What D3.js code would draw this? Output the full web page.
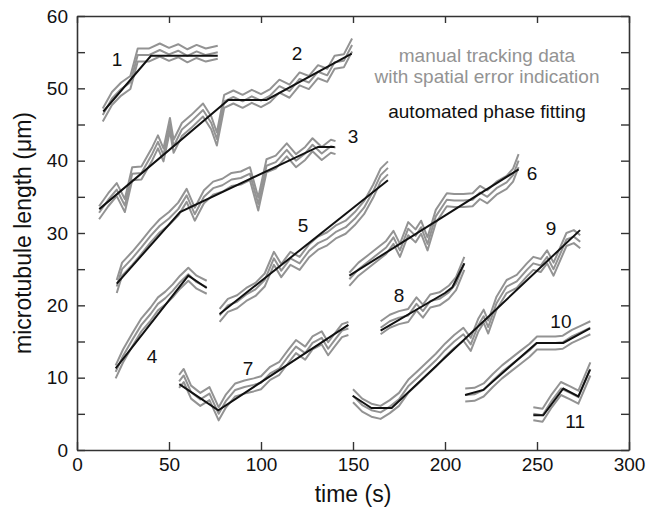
<!DOCTYPE html>
<html>
<head>
<meta charset="utf-8">
<script src="https://cdn.jsdelivr.net/npm/d3@7"></script>
<style>
  body { margin: 0; background: #fff; }
  svg { font-family: "Liberation Sans", Arial, sans-serif; }
</style>
</head>
<body>
<div id="chart"></div>
<script>
// manual tracking data, [time (s), length (um)]
var manual1 = [[14,46.3],[19,48.6],[24,49.9],[29,50.8],[33,54.6],[39,54.6],[45,55.3],[50,54.7],[55,55.2],[60,54.5],[65,55.1],[70,54.6],[76.5,55.0]];
var manual2 = [[12,32.8],[17,34.6],[21.6,36.0],[26,33.8],[30,38.2],[35,38.3],[41,41.0],[44,42.6],[47,40.8],[50.5,45.0],[52.5,42.0],[57,44.3],[62,45.4],[68.5,47.0],[73,45.2],[76,43.0],[80,48.2],[85,48.8],[90,48.2],[95,48.9],[100,48.3],[105,49.0],[110,50.3],[115.5,49.6],[121,51.3],[126,50.8],[131,52.3],[136,51.8],[140,53.6],[145,53.8],[149.5,56.0]];
var manual3 = [[21.6,22.6],[24.5,25.0],[30,26.5],[35,28.0],[40,29.6],[45,31.0],[50,32.0],[55,33.3],[59.6,35.2],[64,32.6],[69,35.0],[74,36.2],[79,36.6],[84,37.4],[89,37.6],[94,38.2],[98.5,34.0],[103,39.3],[108,39.8],[114,41.5],[119,40.0],[124,41.0],[128,42.2],[133,41.0],[138,42.0],[140.5,41.8]];
var manual4 = [[21,10.8],[25,13.0],[30,15.2],[35,17.3],[40,18.8],[44,20.2],[48,21.0],[52,22.0],[56,23.2],[60.5,24.3],[65,23.2],[70.5,22.5]];
var manual5 = [[77.5,18.6],[82,20.0],[87,20.5],[92,21.5],[97,22.2],[102,23.5],[107,26.5],[111,24.8],[116,26.5],[121,25.8],[126,27.5],[131,28.6],[136,29.2],[141,30.2],[146,30.8],[151,32.0],[156,33.5],[161,35.8],[165,38.0],[169,39.0]];
var manual6 = [[148,23.6],[153,25.0],[158,26.0],[164,27.2],[168,28.0],[172,29.4],[175.5,27.6],[180,30.6],[184,29.6],[187,30.8],[190.5,28.5],[195,32.3],[201,34.6],[205,34.5],[210,34.5],[215,34.6],[219,35.6],[223,35.0],[228,36.2],[233.5,37.0],[237,38.0],[240,40.0]];
var manual7 = [[55.5,9.5],[58,10.3],[62,8.0],[67,7.0],[72,7.8],[77,5.0],[81,6.8],[86,8.3],[91,8.7],[96,9.0],[100,9.3],[105,10.6],[110,11.3],[115,13.0],[119,14.3],[124,13.4],[128,14.8],[133,15.5],[136.5,14.0],[140,15.2],[144,16.5],[147.5,16.8]];
var manual8 = [[165,16.9],[170,17.8],[175,18.3],[180,18.6],[184.5,20.2],[188,19.2],[192,20.6],[197,20.9],[202,21.8],[206,23.0],[210.5,25.8]];
var manual9 = [[150,7.5],[155,6.2],[160,5.5],[165,5.2],[170,6.0],[175,7.0],[180,8.8],[185,10.0],[190,11.2],[195,12.4],[200,13.8],[205,15.0],[210,16.0],[214,14.6],[218,17.2],[221,18.5],[223.5,17.0],[228,20.3],[233.5,22.6],[239,23.3],[244.5,24.9],[248,25.8],[252,25.5],[255.5,26.7],[259,25.0],[266,29.1],[270,29.5],[273.5,28.8]];
var manual10 = [[211,7.6],[216,7.7],[221,8.3],[226,9.6],[231,10.8],[236,11.8],[241,12.8],[246,13.8],[250,14.8],[255,14.8],[260,14.8],[264,14.9],[269,15.7],[274,16.3],[279,16.9]];
var manual11 = [[248,5.0],[253,4.8],[258,6.8],[263,8.5],[268,7.9],[272.5,7.3],[279,11.2]];

// automated phase fitting, breakpoints [time, length]
var fit1 = [[14.3,46.8],[40.2,54.5],[76.5,54.5]];
var fit2 = [[12.1,33.3],[82.2,48.4],[103,48.4],[149.3,54.8]];
var fit3 = [[21.6,23.0],[56,32.9],[131,41.9],[140,41.9]];
var fit4 = [[21,11.3],[60.5,24.1],[70.5,22.4]];
var fit5 = [[77.5,18.8],[169,37.3]];
var fit6 = [[148,24.1],[240,38.8]];
var fit7 = [[55.6,9.1],[76.8,5.5],[147.5,17.3]];
var fit8 = [[165,16.5],[200,21.7],[204,22.5],[210.5,25.8]];
var fit9 = [[149.8,7.5],[160,5.8],[171,5.8],[273.4,30.4]];
var fit10 = [[210.9,7.6],[220.8,8.3],[249.8,14.8],[264.3,14.8],[278.8,16.8]];
var fit11 = [[248,4.8],[253.4,4.8],[264.3,8.5],[272.5,7.4],[278.8,11.1]];

var spatialError = 0.9;

var traceNames = ["1","2","3","4","5","6","7","8","9","10","11"];
// label anchor in data units [time, length]
var traceLabelPos = [[21.7,53.1],[119.6,53.9],[150,42.4],[40.8,12.0],[122.8,30.1],[247.3,37.3],[92.9,10.4],[175,20.5],[257.6,29.7],[263,16.9],[270.7,3.0]];

var xTicks = [0, 50, 100, 150, 200, 250, 300];
var yTicks = [0, 5, 10, 15, 20, 25, 30, 35, 40, 45, 50, 55, 60];

var manualData = [manual1, manual2, manual3, manual4, manual5, manual6, manual7, manual8, manual9, manual10, manual11];
var fitData = [fit1, fit2, fit3, fit4, fit5, fit6, fit7, fit8, fit9, fit10, fit11];

var margin = {top: 16, right: 18, bottom: 62, left: 77};
var width = 647 - margin.left - margin.right,
    height = 512 - margin.top - margin.bottom;

var svg = d3.select("#chart")
    .append("svg")
    .attr("width", 647)
    .attr("height", 512);

var g = svg.append("g")
    .attr("transform", "translate(" + margin.left + "," + margin.top + ")");

var x = d3.scaleLinear().domain([0, 300]).range([0, width]);
var y = d3.scaleLinear().domain([0, 60]).range([height, 0]);

var grayColor = "#939393";

var line = d3.line()
    .x(function (d) { return x(d[0]); })
    .y(function (d) { return y(d[1]); });

// gray manual traces with error lines
manualData.forEach(function (trace) {
    [-spatialError, 0, spatialError].forEach(function (off) {
        g.append("path")
            .datum(trace.map(function (d) { return [d[0], d[1] + off]; }))
            .attr("fill", "none")
            .attr("stroke", grayColor)
            .attr("stroke-width", 2)
            .attr("stroke-linejoin", "round")
            .attr("d", line);
    });
});

// black fits
fitData.forEach(function (trace) {
    g.append("path")
        .datum(trace)
        .attr("fill", "none")
        .attr("stroke", "#111")
        .attr("stroke-width", 2)
        .attr("d", line);
});

// trace numbers
g.selectAll(".trace-label")
    .data(traceNames)
    .enter()
    .append("text")
    .attr("class", "trace-label")
    .attr("x", function (d, i) { return x(traceLabelPos[i][0]); })
    .attr("y", function (d, i) { return y(traceLabelPos[i][1]); })
    .attr("text-anchor", "middle")
    .attr("font-size", "19px")
    .attr("fill", "#111")
    .text(function (d) { return d; });

// axes (ticks point inward)
function styleAxis(sel) {
    sel.select(".domain").attr("stroke", "#333").attr("stroke-width", 1.6);
    sel.selectAll(".tick line").attr("stroke", "#333").attr("stroke-width", 1.4);
    sel.selectAll(".tick text").attr("font-size", "19px").attr("fill", "#111")
        .attr("font-family", "Liberation Sans, Arial, sans-serif");
}

g.append("g")
    .attr("transform", "translate(0," + height + ")")
    .call(d3.axisBottom(x).tickValues(xTicks).tickSizeInner(-8).tickSizeOuter(0).tickPadding(8))
    .call(styleAxis);

g.append("g")
    .call(d3.axisTop(x).tickValues(xTicks).tickSizeInner(-7).tickSizeOuter(0).tickFormat(""))
    .call(styleAxis);

g.append("g")
    .call(d3.axisLeft(y).tickValues(yTicks).tickSizeInner(-8).tickSizeOuter(0).tickPadding(9)
        .tickFormat(function (d) { return d % 10 === 0 ? d : ""; }))
    .call(styleAxis);

g.append("g")
    .attr("transform", "translate(" + width + ",0)")
    .call(d3.axisRight(y).tickValues(yTicks).tickSizeInner(-8).tickSizeOuter(0).tickFormat(""))
    .call(styleAxis);

// axis titles
svg.append("text")
    .attr("x", margin.left + width / 2)
    .attr("y", 502)
    .attr("text-anchor", "middle")
    .attr("font-size", "23px")
    .attr("fill", "#111")
    .text("time (s)");

svg.append("text")
    .attr("transform", "translate(31," + (margin.top + height / 2) + ") rotate(-90)")
    .attr("text-anchor", "middle")
    .attr("font-size", "23px")
    .attr("fill", "#111")
    .text("microtubule length (\u03bcm)");

// legend text
var legendX = 487;
svg.append("text")
    .attr("x", legendX).attr("y", 62)
    .attr("text-anchor", "middle").attr("font-size", "19px").attr("fill", grayColor)
    .text("manual tracking data");
svg.append("text")
    .attr("x", legendX).attr("y", 83)
    .attr("text-anchor", "middle").attr("font-size", "19px").attr("fill", grayColor)
    .text("with spatial error indication");
svg.append("text")
    .attr("x", legendX).attr("y", 118)
    .attr("text-anchor", "middle").attr("font-size", "19px").attr("fill", "#111")
    .text("automated phase fitting");
</script>
</body>
</html>
